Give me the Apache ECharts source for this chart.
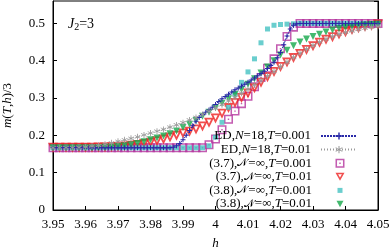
<!DOCTYPE html>
<html><head><meta charset="utf-8">
<script src="https://cdn.jsdelivr.net/npm/echarts@6/dist/echarts.min.js"></script>
<style>html,body{margin:0;padding:0;background:#fff}#c{width:392px;height:249px}</style>
</head><body><div id="c"></div>
<script>
// h grid for the (3.7)/(3.8) series (step 0.002)
const hA = [3.950,3.952,3.954,3.956,3.958,3.960,3.962,3.964,3.966,3.968,
  3.970,3.972,3.974,3.976,3.978,3.980,3.982,3.984,3.986,3.988,
  3.990,3.992,3.994,3.996,3.998,4.000,4.002,4.004,4.006,4.008,
  4.010,4.012,4.014,4.016,4.018,4.020,4.022,4.024,4.026,4.028,
  4.030,4.032,4.034,4.036,4.038,4.040,4.042,4.044,4.046,4.048,4.050];
// h grid for ED N=18 T=0.001 (step 0.001)
const hB = [3.950,3.951,3.952,3.953,3.954,3.955,3.956,3.957,3.958,3.959,
  3.960,3.961,3.962,3.963,3.964,3.965,3.966,3.967,3.968,3.969,
  3.970,3.971,3.972,3.973,3.974,3.975,3.976,3.977,3.978,3.979,
  3.980,3.981,3.982,3.983,3.984,3.985,3.986,3.987,3.988,3.989,
  3.990,3.991,3.992,3.993,3.994,3.995,3.996,3.997,3.998,3.999,
  4.000,4.001,4.002,4.003,4.004,4.005,4.006,4.007,4.008,4.009,
  4.010,4.011,4.012,4.013,4.014,4.015,4.016,4.017,4.018,4.019,
  4.020,4.021,4.022,4.023,4.024,4.025,4.026,4.027,4.028,4.029,
  4.030,4.031,4.032,4.033,4.034,4.035,4.036,4.037,4.038,4.039,
  4.040,4.041,4.042,4.043,4.044,4.045,4.046,4.047,4.048,4.049,4.050];

const edT001 = [.1667,.1667,.1667,.1667,.1667,.1667,.1667,.1667,.1667,.1667,
  .1667,.1667,.1667,.1667,.1667,.1667,.1667,.1667,.1667,.1667,
  .1667,.1667,.1667,.1667,.1667,.1667,.1667,.1667,.1667,.1667,
  .1667,.1667,.1667,.1667,.1667,.1667,.1667,.168,.172,.178,
  .188,.200,.213,.226,.238,.248,.256,.262,.268,.275,
  .283,.291,.298,.304,.310,.316,.322,.327,.332,.337,
  .342,.348,.354,.360,.366,.372,.379,.387,.396,.408,
  .422,.443,.466,.485,.495,.499,.5,.5,.5,.5,
  .5,.5,.5,.5,.5,.5,.5,.5,.5,.5,
  .5,.5,.5,.5,.5,.5,.5,.5,.5,.5,.5];
const edT01 = [.1667,.1668,.167,.1675,.168,.169,.171,.173,.176,.180,
  .184,.188,.192,.196,.201,.206,.211,.216,.222,.228,
  .234,.241,.248,.256,.264,.273,.282,.292,.302,.313,
  .324,.335,.347,.359,.371,.384,.396,.409,.420,.431,
  .441,.450,.458,.465,.471,.476,.480,.484,.487,.490,.492];
const s37T001 = [.1667,.1667,.1667,.1667,.1667,.1667,.1667,.1667,.1667,.1667,
  .1667,.1667,.1667,.1667,.1667,.1667,.1667,.1667,.1667,.1667,
  .1667,.1667,.1667,.1667,.175,.190,.215,.243,.265,.285,
  .305,.330,.355,.380,.405,.432,.465,.490,.5,.5,
  .5,.5,.5,.5,.5,.5,.5,.5,.5,.5,.5];
const s37T01 = [.1667,.1667,.1667,.1667,.1667,.1668,.167,.1672,.1675,.168,
  .169,.170,.172,.174,.177,.180,.184,.189,.194,.199,
  .205,.210,.216,.224,.234,.245,.258,.273,.287,.300,
  .312,.326,.341,.356,.370,.383,.395,.407,.418,.429,
  .439,.448,.456,.463,.470,.476,.482,.487,.491,.494,.497];
const s38T001 = [.1667,.1667,.1667,.1667,.1667,.1667,.1667,.1667,.1667,.1667,
  .1667,.1667,.1667,.1667,.1667,.1667,.1667,.1667,.1667,.1667,
  .1667,.1667,.1667,.1667,.172,.195,.235,.275,.310,.342,
  .370,.405,.448,.485,.495,.497,.498,.499,.5,.5,
  .5,.5,.5,.5,.5,.5,.5,.5,.5,.5,.5];
const s38T01 = [.1667,.1667,.1667,.1667,.1667,.1667,.167,.1675,.168,.169,
  .170,.172,.175,.178,.183,.188,.193,.198,.204,.212,
  .221,.230,.240,.251,.262,.274,.286,.298,.310,.323,
  .337,.352,.367,.383,.400,.415,.428,.440,.450,.458,
  .465,.471,.477,.482,.486,.489,.492,.494,.496,.497,.498];

const seriesNames = ['ED,N=18,T=0.001','ED,N=18,T=0.01','(3.7),NN=inf,T=0.001',
  '(3.7),NN=inf,T=0.01','(3.8),NN=inf,T=0.001','(3.8),NN=inf,T=0.01'];
const legendRich = {
  'ED,N=18,T=0.001': '{r|ED,}{i|N}{r|=18,}{i|T}{r|=0.001}',
  'ED,N=18,T=0.01': '{r|ED,}{i|N}{r|=18,}{i|T}{r|=0.01}',
  '(3.7),NN=inf,T=0.001': '{r|(3.7),}{s|\u{1D4A9}}{r|=\u221E,}{i|T}{r|=0.001}',
  '(3.7),NN=inf,T=0.01': '{r|(3.7),}{s|\u{1D4A9}}{r|=\u221E,}{i|T}{r|=0.01}',
  '(3.8),NN=inf,T=0.001': '{r|(3.8),}{s|\u{1D4A9}}{r|=\u221E,}{i|T}{r|=0.001}',
  '(3.8),NN=inf,T=0.01': '{r|(3.8),}{s|\u{1D4A9}}{r|=\u221E,}{i|T}{r|=0.01}'
};

const zip = (xs, ys) => xs.map((x, i) => [x, ys[i]]);
const F = 'Liberation Serif';
const fmt = v => String(parseFloat(v.toFixed(2)));
const plus = 'path://M4,0H6V4H10V6H6V10H4V6H0V4H4Z';
const aster = 'path://M4.4,0H5.6V3.6L8.6,1.6L9.2,2.6L6.2,4.4L9.2,6.2L8.6,7.2L5.6,5.4V9H4.4V5.4L1.4,7.2L0.8,6.2L3.8,4.4L0.8,2.6L1.4,1.6L4.4,3.6Z';
const boxDot = 'path://M0,0H10V10H0Z M1.7,1.7V8.3H8.3V1.7Z M4.2,4.2H5.8V5.8H4.2Z';
const triOpen = 'path://M0,0H10L5,9Z M2.9,1.6L5,5.4L7.1,1.6Z';
const triDown = 'path://M0,0H10L5,9Z';

const rich = {
  r: {fontFamily: F, fontSize: 13, lineHeight: 13, color: '#000'},
  i: {fontFamily: F, fontStyle: 'italic', fontSize: 13, lineHeight: 13, color: '#000'},
  s: {fontFamily: F, fontSize: 11, lineHeight: 13, color: '#000'}
};
const ICX = 345, ROW0 = 124.5, ROWH = 13.6, TXR = 317;
function mkLegend(names, w, row) {
  return {
    orient: 'vertical', right: 392 - (ICX + w / 2), top: ROW0 + ROWH * row, align: 'right',
    itemWidth: w, itemHeight: Math.min(w, 9), itemGap: ROWH - 13,
    data: names, formatter: n => legendRich[n],
    textStyle: {lineHeight: 13, padding: [0, (ICX - w / 2) - 5 - TXR, 0, 0], rich: rich}
  };
}

const chart = echarts.init(document.getElementById('c'), null, {renderer: 'canvas'});
chart.setOption({
  animation: false,
  backgroundColor: '#fff',
  textStyle: {fontFamily: F},
  grid: {left: 53, right: 14, top: 1, bottom: 39, show: true, borderColor: '#000', borderWidth: 1,
         containLabel: false, outerBoundsMode: 'none'},
  xAxis: {
    type: 'value', min: 3.95, max: 4.05, interval: 0.01,
    name: '{i|h}', nameLocation: 'middle', nameGap: 27,
    nameTextStyle: {rich: {i: {fontFamily: F, fontStyle: 'italic', fontSize: 13, color: '#000'}}},
    axisLine: {lineStyle: {color: '#000', width: 1}},
    axisTick: {inside: true, length: 4, lineStyle: {color: '#000'}},
    axisLabel: {formatter: fmt, color: '#000', fontFamily: F, fontSize: 13, margin: 8},
    splitLine: {show: false}
  },
  yAxis: [{
    type: 'value', min: 0, max: 0.56, interval: 0.1,
    name: '{i|m}{r|(}{i|T}{r|,}{i|h}{r|)/3}', nameLocation: 'middle', nameGap: 39, nameRotate: 90,
    nameTextStyle: {rich: {
      i: {fontFamily: F, fontStyle: 'italic', fontSize: 13, color: '#000'},
      r: {fontFamily: F, fontSize: 13, color: '#000'}}},
    axisLine: {show: true, lineStyle: {color: '#000', width: 1}},
    axisTick: {show: true, inside: true, length: 4, lineStyle: {color: '#000'}},
    axisLabel: {formatter: fmt, color: '#000', fontFamily: F, fontSize: 13, margin: 8, showMaxLabel: false},
    splitLine: {show: false}
  }, {
    type: 'value', min: 0, max: 0.56, interval: 0.1, position: 'right',
    axisLine: {show: true, lineStyle: {color: '#000', width: 1}},
    axisTick: {show: true, inside: true, length: 4, lineStyle: {color: '#000'}},
    axisLabel: {show: false}, splitLine: {show: false}
  }],
  legend: [
    mkLegend([seriesNames[0], seriesNames[1]], 36, 0),
    mkLegend([seriesNames[2], seriesNames[3]], 9, 2),
    mkLegend([seriesNames[4]], 5, 4),
    mkLegend([seriesNames[5]], 7, 5)
  ],
  graphic: [{
    type: 'text', left: 68, top: 17,
    style: {rich: {
      i: {fontFamily: F, fontStyle: 'italic', fontSize: 14, fill: '#000'},
      sub: {fontFamily: F, fontSize: 10, fill: '#000', padding: [6, 0, 0, 0]},
      r: {fontFamily: F, fontSize: 14, fill: '#000'}},
      text: '{i|J}{sub|2}{r|=3}'}
  }],
  series: [
    {name: seriesNames[0], type: 'line', data: zip(hB, edT001),
     symbol: plus, symbolSize: 5, showAllSymbol: true,
     lineStyle: {color: '#2a2aa8', width: 1, type: [2, 1]},
     itemStyle: {color: '#2a2aa8'}},
    {name: seriesNames[1], type: 'line', data: zip(hA, edT01),
     symbol: aster, symbolSize: 6, showAllSymbol: true,
     lineStyle: {color: '#9a9a9a', width: 1, type: [1, 2]},
     itemStyle: {color: '#9a9a9a'}},
    {name: seriesNames[2], type: 'scatter', data: zip(hA, s37T001),
     symbol: boxDot, symbolSize: 9,
     itemStyle: {color: '#b4339e'}},
    {name: seriesNames[3], type: 'scatter', data: zip(hA, s37T01),
     symbol: triOpen, symbolSize: 10,
     itemStyle: {color: '#ee2222'}},
    {name: seriesNames[4], type: 'scatter', data: zip(hA, s38T001),
     symbol: 'rect', symbolSize: 5,
     itemStyle: {color: '#45c2c2'}},
    {name: seriesNames[5], type: 'scatter', data: zip(hA, s38T01),
     symbol: triDown, symbolSize: 7,
     itemStyle: {color: '#14a84a'}}
  ]
});
</script></body></html>
